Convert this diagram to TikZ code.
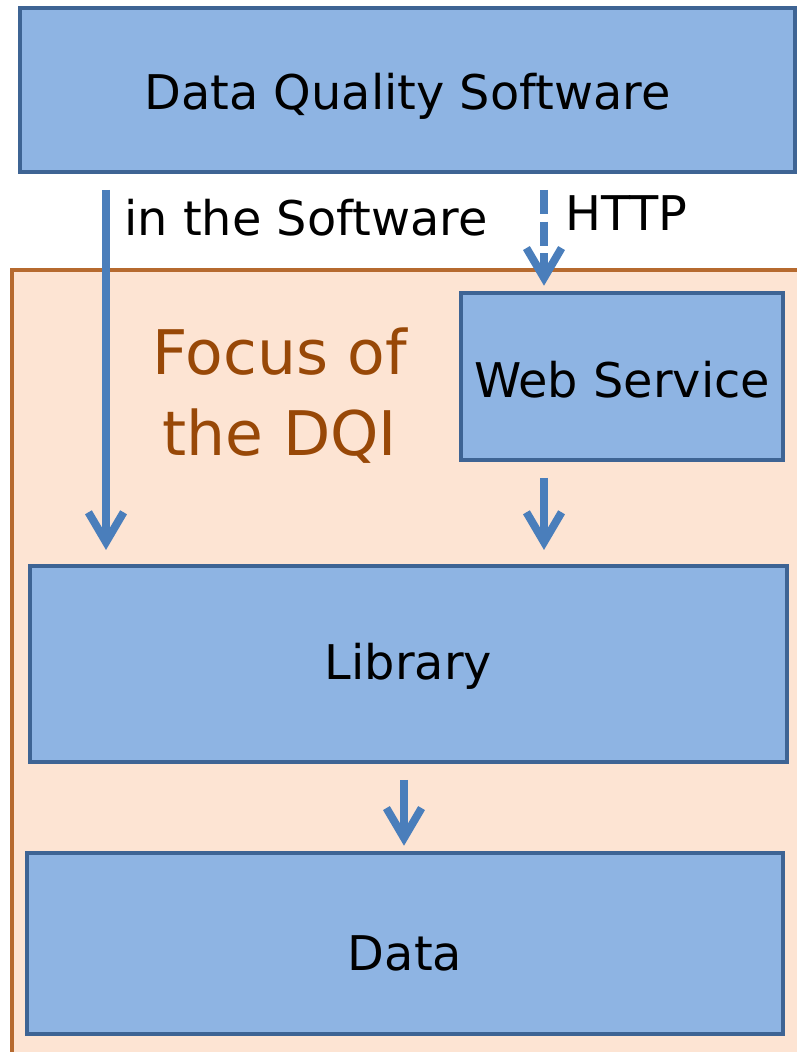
\documentclass[tikz,border=0pt]{standalone}
\usepackage{fontspec}
\setmainfont{DejaVu Sans}
\usetikzlibrary{arrows.meta,positioning}
\definecolor{BoxFill}{HTML}{8EB4E3}
\definecolor{BoxLine}{HTML}{3E6494}
\definecolor{FlowBlue}{HTML}{4A7EBB}
\definecolor{FocusLine}{HTML}{B66A2F}
\definecolor{FocusFill}{HTML}{FDE4D3}
\definecolor{FocusText}{HTML}{984807}

\begin{document}
\begin{tikzpicture}[x=0.02cm,y=-0.02cm,
        box/.style={draw=BoxLine,line width=2.3pt,fill=BoxFill,
          inner sep=0pt,text depth=0pt,font=\fontsize{27.2}{32}\selectfont},
        flow/.style={draw=FlowBlue,line width=4.5pt,
          -{Straight Barb[length=17pt,width=20pt]}},
        lbl/.style={font=\fontsize{27.2}{32}\selectfont,inner sep=0pt,anchor=west}]
        \useasboundingbox (0,0) rectangle (796,1052);
        % focus area, runs off the right and bottom edges
        \node[draw=FocusLine,line width=2.3pt,fill=FocusFill,inner sep=0pt,
          minimum width=16.2cm,minimum height=16.4cm,anchor=north west]
          (focus) at (10,268) {};
        \node[align=center,text=FocusText,font=\fontsize{35}{46}\selectfont]
          (focuslbl) at (280,396) {Focus of\\the DQI};
        % boxes
        \node[box,text height=22.6pt,minimum width=15.5cm,minimum height=3.28cm] (dqs) at (407.5,90) {Data Quality Software};
        \node[box,text height=23.6pt,minimum width=6.44cm,minimum height=3.34cm] (web) at (622,376.5) {Web Service};
        \node[box,text height=18pt,minimum width=15.14cm,minimum height=3.92cm] (lib) at (408.5,664) {Library};
        \node[box,text height=31.2pt,minimum width=15.12cm,minimum height=3.62cm] (data) at (405,943.5) {Data};
        % connectors
        \coordinate (direct) at (106,0);
        \coordinate (http) at (544,0);
        \coordinate (down) at (404,0);
        \draw[flow,shorten <=9pt,shorten >=8pt] (dqs.south -| direct) -- (lib.north -| direct);
        \draw[flow,dash pattern=on 13.6pt off 4.5pt,shorten <=9pt,shorten >=3pt]
          (dqs.south -| http) -- (web.north -| http);
        \draw[flow,shorten <=9pt,shorten >=8pt] (web.south -| http) -- (lib.north -| http);
        \draw[flow,shorten <=9pt,shorten >=3pt] (lib.south -| down) -- (data.north -| down);
        \node[lbl] (sw) at (124,218) {in the Software};
        \node[lbl] (httplbl) at (565,213) {HTTP};
      \end{tikzpicture}
\end{document}
